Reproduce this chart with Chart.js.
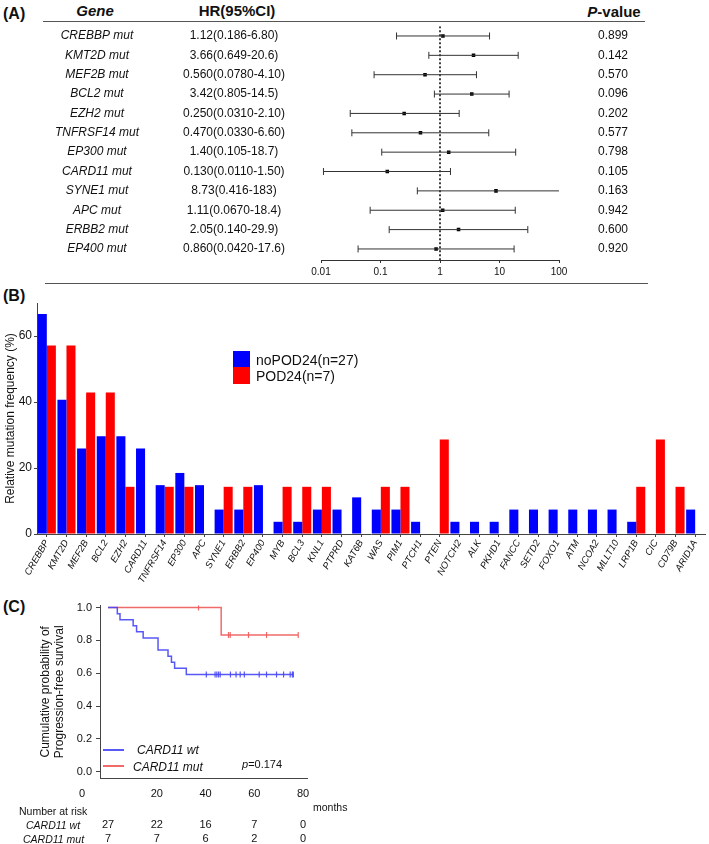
<!DOCTYPE html>
<html>
<head>
<meta charset="utf-8">
<script src="https://cdn.jsdelivr.net/npm/chart.js@4.4.1/dist/chart.umd.min.js"></script>
<style>
  body { margin: 0; background: #fff; width: 709px; height: 844px; position: relative; overflow: hidden;
         font-family: "Liberation Sans", Arial, sans-serif; color: #111; }
  canvas { position: absolute; left: 0; }
  .t { position: absolute; white-space: nowrap; transform: translate(-50%, -50%); }
  .l { position: absolute; white-space: nowrap; transform: translateY(-50%); }
  .rule { position: absolute; height: 1px; background: #555; }
  .sw { position: absolute; }
</style>
</head>
<body>
<!-- panel A -->
<div class="l" style="left:3px;top:14px;font:bold 16px 'Liberation Sans'">(A)</div>
<div class="t" style="left:95px;top:10px;font:bold italic 15px 'Liberation Sans'">Gene</div>
<div class="t" style="left:237px;top:10px;font:bold 15px 'Liberation Sans'">HR(95%CI)</div>
<div class="t" style="left:614px;top:11px;font:bold 15px 'Liberation Sans'"><i>P</i>-value</div>
<div class="rule" style="left:43px;top:21px;width:602px"></div>
<div class="rule" style="left:45px;top:283px;width:603px"></div>
<canvas id="forest" width="709" height="285" style="top:0"></canvas>

<!-- panel B -->
<div class="l" style="left:3px;top:296px;font:bold 16px 'Liberation Sans'">(B)</div>
<canvas id="bars" width="709" height="297" style="top:288px"></canvas>
<div class="sw" style="left:233px;top:351px;width:17px;height:16px;background:#0000ff"></div>
<div class="sw" style="left:233px;top:367px;width:17px;height:17px;background:#ff0000"></div>
<div class="l" style="left:256px;top:360px;font-size:14px">noPOD24(n=27)</div>
<div class="l" style="left:256px;top:376px;font-size:14px">POD24(n=7)</div>

<!-- panel C -->
<div class="l" style="left:3px;top:607px;font:bold 16px 'Liberation Sans'">(C)</div>
<canvas id="km" width="709" height="249" style="top:595px"></canvas>
<div class="sw" style="left:103px;top:749px;width:21px;height:1.5px;background:rgba(70,70,245,0.9)"></div>
<div class="sw" style="left:103px;top:765px;width:21px;height:1.5px;background:rgba(240,90,90,0.9)"></div>
<div class="l" style="left:137px;top:750px;font:italic 12px 'Liberation Sans'">CARD11 wt</div>
<div class="l" style="left:133px;top:767px;font:italic 12px 'Liberation Sans'">CARD11 mut</div>
<div class="l" style="left:242px;top:764px;font-size:11px"><i>p</i>=0.174</div>
<div class="t" style="left:82px;top:793px;font-size:11px">0</div>
<div class="l" style="left:313px;top:807px;font-size:10.5px">months</div>
<div class="l" style="left:19px;top:811px;font-size:10.5px">Number at risk</div>
<div class="l" style="left:26px;top:825px;font:italic 10.5px 'Liberation Sans'">CARD11 wt</div>
<div class="l" style="left:23px;top:839px;font:italic 10.5px 'Liberation Sans'">CARD11 mut</div>

<script>
// (A) hazard ratios
const genesA = ['CREBBP mut', 'KMT2D mut', 'MEF2B mut', 'BCL2 mut', 'EZH2 mut', 'TNFRSF14 mut',
                'EP300 mut', 'CARD11 mut', 'SYNE1 mut', 'APC mut', 'ERBB2 mut', 'EP400 mut'];
const hrText = ['1.12(0.186-6.80)', '3.66(0.649-20.6)', '0.560(0.0780-4.10)', '3.42(0.805-14.5)',
                '0.250(0.0310-2.10)', '0.470(0.0330-6.60)', '1.40(0.105-18.7)', '0.130(0.0110-1.50)',
                '8.73(0.416-183)', '1.11(0.0670-18.4)', '2.05(0.140-29.9)', '0.860(0.0420-17.6)'];
const hr = [1.12, 3.66, 0.560, 3.42, 0.250, 0.470, 1.40, 0.130, 8.73, 1.11, 2.05, 0.860];
const ciLow = [0.186, 0.649, 0.0780, 0.805, 0.0310, 0.0330, 0.105, 0.0110, 0.416, 0.0670, 0.140, 0.0420];
const ciHigh = [6.80, 20.6, 4.10, 14.5, 2.10, 6.60, 18.7, 1.50, 183, 18.4, 29.9, 17.6];
const pValues = ['0.899', '0.142', '0.570', '0.096', '0.202', '0.577', '0.798', '0.105', '0.163', '0.942', '0.600', '0.920'];
const hrTicks = [0.01, 0.1, 1, 10, 100];

// (B) mutation frequency (%)
const genesB = ['CREBBP', 'KMT2D', 'MEF2B', 'BCL2', 'EZH2', 'CARD11', 'TNFRSF14', 'EP300', 'APC', 'SYNE1',
                'ERBB2', 'EP400', 'MYB', 'BCL3', 'KNL1', 'PTPRD', 'KAT6B', 'WAS', 'PIM1', 'PTCH1', 'PTEN',
                'NOTCH2', 'ALK', 'PKHD1', 'FANCC', 'SETD2', 'FOXO1', 'ATM', 'NCOA2', 'MLLT10', 'LRP1B',
                'CIC', 'CD79B', 'ARID1A'];
const noPod24 = [66.7, 40.7, 25.9, 29.6, 29.6, 25.9, 14.8, 18.5, 14.8, 7.4, 7.4, 14.8, 3.7, 3.7, 7.4, 7.4, 11.1,
                 7.4, 7.4, 3.7, 0, 3.7, 3.7, 3.7, 7.4, 7.4, 7.4, 7.4, 7.4, 7.4, 3.7, 0, 0, 7.4];
const pod24 = [57.1, 57.1, 42.9, 42.9, 14.3, 0, 14.3, 14.3, 0, 14.3, 14.3, 0, 14.3, 14.3, 14.3, 0, 0,
               14.3, 14.3, 0, 28.6, 0, 0, 0, 0, 0, 0, 0, 0, 0, 14.3, 28.6, 14.3, 0];

// (C) progression-free survival
const wtTime = [0, 3.8, 4.9, 10.3, 11.7, 14.4, 20.5, 24.6, 26.0, 27.3, 32.1, 76.0];
const wtSurv = [1, 0.963, 0.926, 0.889, 0.852, 0.815, 0.741, 0.704, 0.667, 0.630, 0.593, 0.593];
const wtCensor = [40.3, 43.9, 44.6, 45.3, 46.0, 50.2, 52.5, 54.2, 55.9, 62.0, 65.0, 69.1, 72.0, 74.7, 75.6, 76.0];
const wtCensorSurv = 0.593;
const mutTime = [0, 46.4, 78.0];
const mutSurv = [1, 0.833, 0.833];
const mutCensor = [37.1, 49.4, 50.1, 57.6, 65.0, 78.0];
const mutCensorSurv = [1, 0.833, 0.833, 0.833, 0.833, 0.833];
const riskTimes = [0, 20, 40, 60, 80];
const riskWt = [27, 22, 16, 7, 0];
const riskMut = [7, 7, 6, 2, 0];

const BLUE_LINE = 'rgba(70,70,245,0.9)';
const RED_LINE = 'rgba(240,90,90,0.9)';

Chart.defaults.font.family = '"Liberation Sans", Arial, sans-serif';
Chart.defaults.color = '#111';
Chart.defaults.animation = false;
Chart.defaults.plugins.legend.display = false;
Chart.defaults.plugins.tooltip.enabled = false;

// gene / HR / p-value columns follow the rows of the forest plot
const rowText = {
  id: 'rowText',
  afterDraw(chart) {
    const { ctx, scales: { y } } = chart;
    ctx.save();
    ctx.fillStyle = '#111';
    ctx.textAlign = 'center';
    ctx.textBaseline = 'middle';
    genesA.forEach((g, i) => {
      const py = y.getPixelForValue(i);
      ctx.font = 'italic 12px "Liberation Sans", Arial';
      ctx.fillText(g, 97, py);
      ctx.font = '12px "Liberation Sans", Arial';
      ctx.fillText(hrText[i], 234, py);
      ctx.fillText(pValues[i], 613, py);
    });
    ctx.restore();
  }
};

const ciSets = genesA.map((g, i) => ({
  data: [{ x: ciLow[i], y: i }, { x: ciHigh[i], y: i }],
  showLine: true,
  borderColor: '#333',
  borderWidth: 1,
  pointStyle: 'line',
  rotation: 90,
  pointRadius: 3.5,
  pointBorderColor: '#333',
  pointBorderWidth: 1
}));

new Chart(document.getElementById('forest'), {
  type: 'scatter',
  data: {
    datasets: [
      ...ciSets,
      {
        data: [{ x: 1, y: -0.5 }, { x: 1, y: 11.57 }],
        showLine: true, borderColor: '#000', borderWidth: 1.5, borderDash: [2, 2], pointRadius: 0
      },
      {
        data: hr.map((v, i) => ({ x: v, y: i })),
        pointStyle: 'rect', pointRadius: 2.5, backgroundColor: '#000', borderColor: '#000', borderWidth: 0
      }
    ]
  },
  options: {
    responsive: false,
    devicePixelRatio: 1,
    layout: { padding: { top: 26.3, left: 321, right: 150, bottom: 0 } },
    scales: {
      x: {
        type: 'logarithmic', min: 0.01, max: 100,
        afterBuildTicks: s => { s.ticks = hrTicks.map(v => ({ value: v })); },
        afterFit: s => { s.height = 25; },
        ticks: { font: { size: 10 }, padding: 3, autoSkip: false, maxRotation: 0, callback: v => String(v) },
        grid: { drawOnChartArea: false, tickLength: 3, color: '#333' },
        border: { color: '#333' }
      },
      y: { type: 'linear', min: -0.5, max: 11.57, reverse: true, display: false }
    }
  },
  plugins: [rowText]
});

new Chart(document.getElementById('bars'), {
  type: 'bar',
  data: {
    labels: genesB,
    datasets: [
      { label: 'noPOD24(n=27)', data: noPod24, backgroundColor: '#0000ff' },
      { label: 'POD24(n=7)', data: pod24, backgroundColor: '#ff0000' }
    ]
  },
  options: {
    responsive: false,
    devicePixelRatio: 1,
    barPercentage: 1,
    categoryPercentage: 0.92,
    layout: { padding: { top: 15, left: 0, right: 4, bottom: 0 } },
    scales: {
      x: {
        afterFit: s => { s.height = 51; },
        ticks: { autoSkip: false, minRotation: 60, maxRotation: 60, padding: 1,
                 font: { size: 9.5, style: 'italic' } },
        grid: { offset: false, drawOnChartArea: false, tickLength: 3, color: '#444' },
        border: { color: '#444' }
      },
      y: {
        min: 0, max: 70,
        afterFit: s => { s.width = 37; },
        ticks: { stepSize: 20, includeBounds: false, padding: 2, font: { size: 12 } },
        grid: { drawOnChartArea: false, tickLength: 3, color: '#444' },
        border: { color: '#444' },
        title: { display: true, text: 'Relative mutation frequency (%)', font: { size: 12 },
                 padding: { top: 3, bottom: 0 } }
      }
    }
  }
});

const riskTable = {
  id: 'riskTable',
  afterDraw(chart) {
    const { ctx, scales: { x } } = chart;
    ctx.save();
    ctx.font = '11px "Liberation Sans", Arial';
    ctx.fillStyle = '#111';
    ctx.textAlign = 'center';
    ctx.textBaseline = 'middle';
    riskTimes.forEach((t, i) => {
      const px = x.getPixelForValue(t);
      ctx.fillText(String(riskWt[i]), px, 230);
      ctx.fillText(String(riskMut[i]), px, 244);
    });
    ctx.restore();
  }
};

new Chart(document.getElementById('km'), {
  type: 'scatter',
  data: {
    datasets: [
      {
        data: wtTime.map((t, i) => ({ x: t, y: wtSurv[i] })),
        showLine: true, stepped: 'before', borderColor: BLUE_LINE, borderWidth: 1.5, pointRadius: 0
      },
      {
        data: mutTime.map((t, i) => ({ x: t, y: mutSurv[i] })),
        showLine: true, stepped: 'before', borderColor: RED_LINE, borderWidth: 1.5, pointRadius: 0
      },
      {
        data: wtCensor.map(t => ({ x: t, y: wtCensorSurv })),
        pointStyle: 'line', rotation: 90, pointRadius: 3, pointBorderColor: BLUE_LINE, pointBorderWidth: 1.2
      },
      {
        data: mutCensor.map((t, i) => ({ x: t, y: mutCensorSurv[i] })),
        pointStyle: 'line', rotation: 90, pointRadius: 3, pointBorderColor: RED_LINE, pointBorderWidth: 1.2
      }
    ]
  },
  options: {
    responsive: false,
    devicePixelRatio: 1,
    layout: { padding: { top: 8, left: 0, right: 402, bottom: 0 } },
    scales: {
      x: {
        type: 'linear', min: -3.3, max: 81.6,
        afterFit: s => { s.height = 66; },
        ticks: { stepSize: 20, includeBounds: false, padding: 9, font: { size: 11 },
                 callback: v => (v === 0 ? '' : v) },
        grid: { display: false, drawTicks: false },
        border: { color: '#444' }
      },
      y: {
        type: 'linear', min: -0.038, max: 1.012,
        afterFit: s => { s.width = 100; },
        ticks: { stepSize: 0.2, includeBounds: false, padding: 4, font: { size: 11 },
                 callback: v => v.toFixed(1) },
        grid: { drawOnChartArea: false, tickLength: 4, color: '#444' },
        border: { color: '#444' },
        title: { display: true, text: ['Cumulative probability of', 'Progression-free survival'],
                 font: { size: 12 }, padding: { top: 38, bottom: 0 } }
      }
    }
  },
  plugins: [riskTable]
});
</script>
</body>
</html>
